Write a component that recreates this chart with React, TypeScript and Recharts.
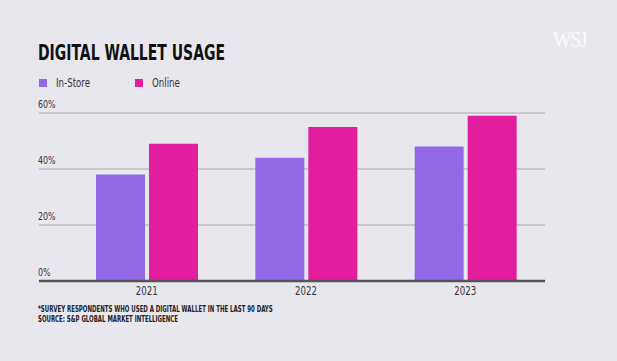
import { BarChart, Bar, XAxis, YAxis, CartesianGrid } from 'recharts';

const years = ['2021', '2022', '2023'];
const inStore = [38, 44, 48];
const online = [49, 55, 59];
const yTicks = [0, 20, 40, 60];

const data = years.map((year, i) => ({ year, inStore: inStore[i], online: online[i] }));

const PURPLE = '#9168e6';
const PINK = '#e31e9e';
const NARROW = '"DejaVu Sans Condensed", "Liberation Sans Narrow", sans-serif';

// squeeze text horizontally to mimic the WSJ narrow face
const squeeze = (sx: number) => ({ transform: `scaleX(${sx})`, transformOrigin: 'left top' });

const YTick = (props: any) => {
  const { y, payload } = props;
  return (
    <text
      x={38}
      y={y - 5}
      fill="#333"
      fontSize={11}
      fontFamily={NARROW}
      transform={`translate(38 0) scale(0.8 1) translate(-38 0)`}
    >
      {payload.value}%
    </text>
  );
};

const XTick = (props: any) => {
  const { x, y, payload } = props;
  return (
    <text
      x={0}
      y={0}
      textAnchor="middle"
      fill="#333"
      fontSize={12}
      fontFamily={NARROW}
      transform={`translate(${x} ${y + 6}) scale(0.8 1)`}
    >
      {payload.value}
    </text>
  );
};

const legendItems = [
  { label: 'In-Store', color: PURPLE, left: 0 },
  { label: 'Online', color: PINK, left: 96 },
];

export default function App() {
  return (
    <div
      style={{
        position: 'absolute',
        top: 0,
        left: 0,
        width: 617,
        height: 361,
        background: '#e9e7ee',
        overflow: 'hidden',
      }}
    >
      <div
        style={{
          position: 'absolute',
          left: 38,
          top: 41,
          fontFamily: NARROW,
          fontWeight: 700,
          fontSize: 21,
          color: '#111',
          whiteSpace: 'nowrap',
          ...squeeze(0.74),
        }}
      >
        DIGITAL WALLET USAGE
      </div>
      <div
        style={{
          position: 'absolute',
          left: 553,
          top: 26,
          fontFamily: '"Liberation Serif", serif',
          fontSize: 24,
          color: '#fafafa',
          letterSpacing: -1.5,
          ...squeeze(0.82),
        }}
      >
        WSJ
      </div>
      <div style={{ position: 'absolute', left: 39, top: 79, fontFamily: NARROW, fontSize: 13, color: '#333' }}>
        {legendItems.map((it) => (
          <div key={it.label}>
            <span
              style={{ position: 'absolute', left: it.left, top: 0, width: 8, height: 8, background: it.color }}
            />
            <span
              style={{
                position: 'absolute',
                left: it.left + 17,
                top: -4,
                whiteSpace: 'nowrap',
                ...squeeze(0.74),
              }}
            >
              {it.label}
            </span>
          </div>
        ))}
      </div>
      <BarChart
        width={617}
        height={361}
        data={data}
        margin={{ top: 113, right: 72, left: 38, bottom: 60 }}
        barGap={4}
        barSize={49}
      >
        <CartesianGrid horizontal vertical={false} stroke="#a8a8a8" strokeWidth={1} />
        <XAxis
          dataKey="year"
          height={20}
          padding={{ left: 28, right: 0 }}
          axisLine={{ stroke: '#555', strokeWidth: 2.5 }}
          tickLine={false}
          tick={(p: any) => <XTick {...p} />}
        />
        <YAxis
          width={1}
          domain={[0, 60]}
          ticks={yTicks}
          interval={0}
          axisLine={false}
          tickLine={false}
          tick={(p: any) => <YTick {...p} />}
        />
        <Bar dataKey="inStore" name="In-Store" fill={PURPLE} isAnimationActive={false} />
        <Bar dataKey="online" name="Online" fill={PINK} isAnimationActive={false} />
      </BarChart>
      <div
        style={{
          position: 'absolute',
          left: 38,
          top: 304,
          fontFamily: NARROW,
          fontWeight: 700,
          fontSize: 8.5,
          lineHeight: '10px',
          color: '#222',
          whiteSpace: 'nowrap',
          ...squeeze(0.71),
        }}
      >
        *SURVEY RESPONDENTS WHO USED A DIGITAL WALLET IN THE LAST 90 DAYS
        <br />
        SOURCE: S&amp;P GLOBAL MARKET INTELLIGENCE
      </div>
    </div>
  );
}
